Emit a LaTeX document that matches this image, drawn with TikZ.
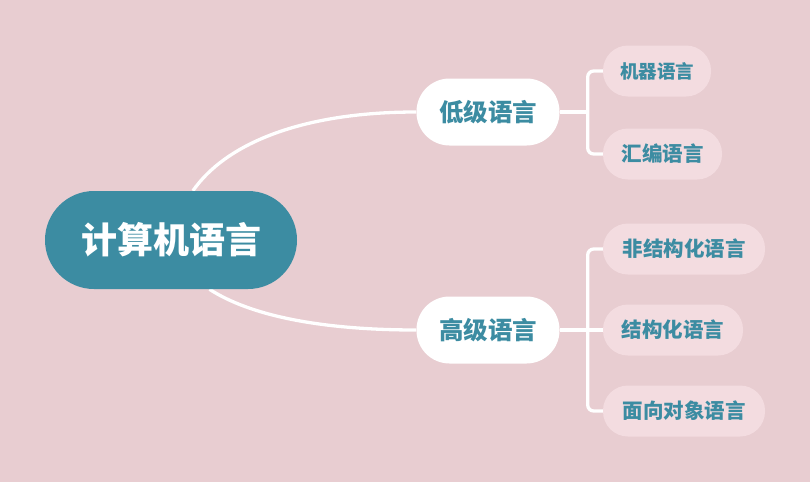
\documentclass[tikz,border=0pt]{standalone}
\usepackage{fontspec}
\newfontfamily\cjk{Noto Sans CJK SC}
\usetikzlibrary{calc}
\pgfdeclarelayer{back}
\pgfdeclarelayer{edges}
\pgfsetlayers{back,edges,main}
\definecolor{bgc}{HTML}{E8CDD1}
\definecolor{teal}{HTML}{3C8CA2}
\definecolor{leaffill}{HTML}{F3DCE0}
\tikzset{
  rootbox/.style={fill=teal, text=white, rounded corners=49pt, minimum width=252pt, minimum height=98pt, inner sep=0pt, font=\cjk\bfseries\fontsize{36}{40}\selectfont},
  midbox/.style={fill=white, text=teal, rounded corners=33pt, minimum width=143pt, minimum height=67pt, inner sep=0pt, font=\cjk\bfseries\fontsize{24.5}{28}\selectfont},
  leafbox/.style={fill=leaffill, text=teal, rounded corners=25pt, minimum height=51pt, inner sep=0pt, font=\cjk\bfseries\fontsize{20.5}{24}\selectfont},
  smallleaf/.style={font=\cjk\bfseries\fontsize{18.5}{22}\selectfont},
  link/.style={draw=white, line width=3.3pt},
  brace/.style={draw=white, line width=3.3pt, rounded corners=6pt}
}
\begin{document}
\begin{tikzpicture}[x=1pt, y=-1pt]
\begin{pgfonlayer}{back}
\fill[bgc] (0,0) rectangle (810,482);
\end{pgfonlayer}
\useasboundingbox (0,0) rectangle (810,482);
% nodes
\node[rootbox] (root) at (171,240) {计算机语言};
\node[midbox] (low) at (488,112) {低级语言};
\node[midbox] (high) at (488,330) {高级语言};
\node[leafbox, smallleaf, minimum width=108pt] (l1) at (657,71) {机器语言};
\node[leafbox, minimum width=119pt] (l2) at (662.5,154) {汇编语言};
\node[leafbox, minimum width=162pt] (h1) at (684,249) {非结构化语言};
\node[leafbox, minimum width=140pt] (h2) at (673,330) {结构化语言};
\node[leafbox, minimum width=162pt] (h3) at (684,411) {面向对象语言};
% connectors
\begin{pgfonlayer}{edges}
\path[link] (root.66) .. controls ($(root.66)+(32,-46)$) and ($(low.west)+(-117,0)$) .. (low.west);
\path[link] (root.-52) .. controls ($(root.-52)+(40,26)$) and ($(high.west)+(-97,0)$) .. (high.west);
\coordinate (bl) at ($(low.east)+(28,0)$);
\coordinate (bh) at ($(high.east)+(28,0)$);
\path[link] (low.east) -- (bl);
\path[brace] (l1.west) -| (bl) |- (l2.west);
\path[link] (high.east) -- (h2.west);
\path[brace] (h1.west) -| (bh) |- (h3.west);
\end{pgfonlayer}
\end{tikzpicture}
\end{document}
